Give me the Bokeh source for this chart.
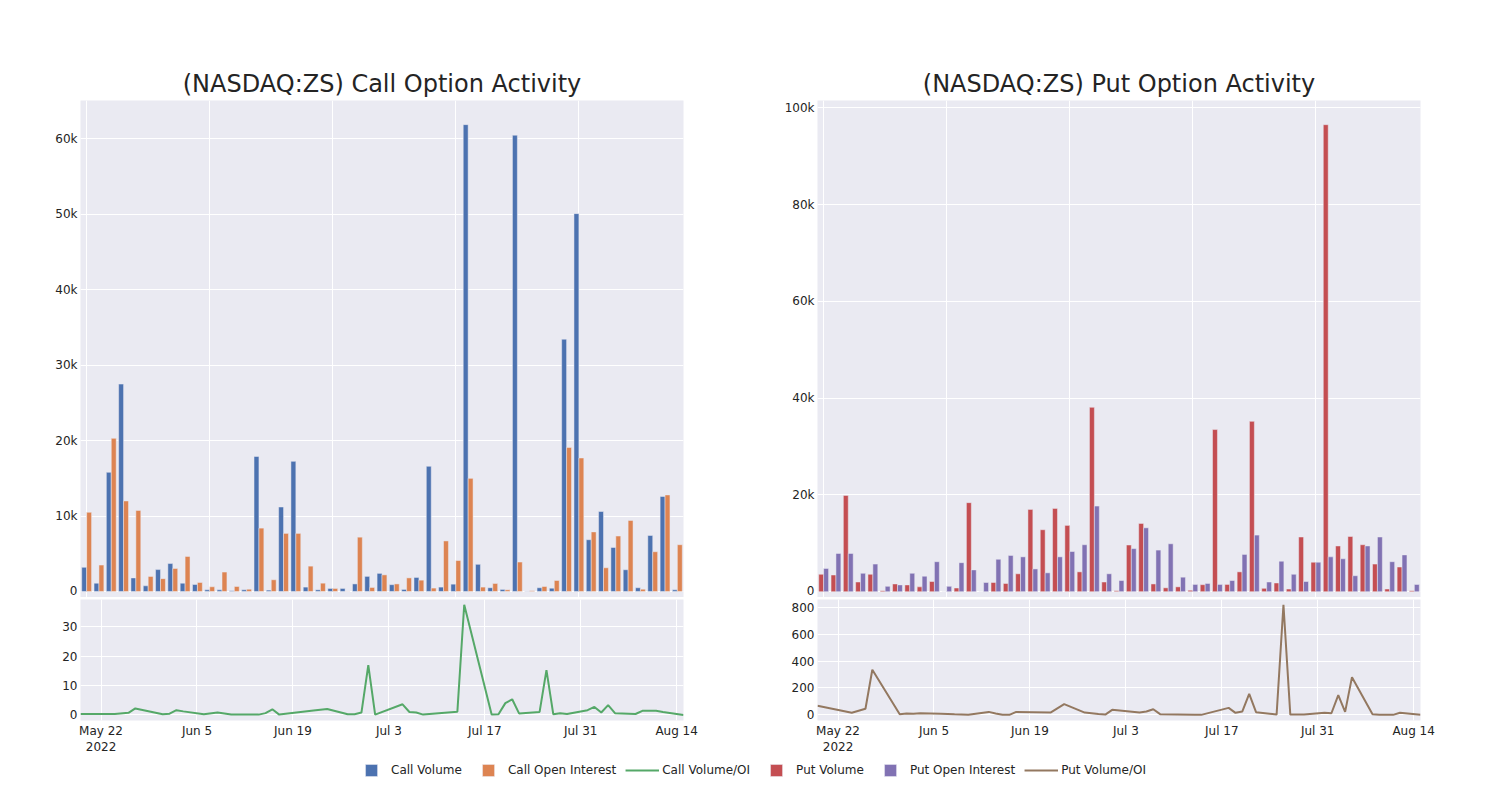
import pandas as pd
from bokeh.plotting import figure
from bokeh.layouts import column, row
from bokeh.models import (ColumnDataSource, Range1d, FixedTicker, SingleIntervalTicker,
                          NumeralTickFormatter, Legend, LegendItem)
from bokeh.transform import dodge
from bokeh.embed import file_html
from bokeh.resources import INLINE

# ---------------- data ----------------
dates = ["2022-05-19", "2022-05-24", "2022-05-26", "2022-05-27", "2022-05-31",
         "2022-06-01", "2022-06-02", "2022-06-03", "2022-06-06", "2022-06-08",
         "2022-06-10", "2022-06-13", "2022-06-14", "2022-06-15", "2022-06-16",
         "2022-06-17", "2022-06-22", "2022-06-24", "2022-06-27", "2022-06-28",
         "2022-06-29", "2022-06-30", "2022-07-01", "2022-07-05", "2022-07-06",
         "2022-07-07", "2022-07-08", "2022-07-13", "2022-07-14", "2022-07-18",
         "2022-07-19", "2022-07-20", "2022-07-21", "2022-07-22", "2022-07-25",
         "2022-07-26", "2022-07-27", "2022-07-28", "2022-07-29", "2022-08-01",
         "2022-08-02", "2022-08-03", "2022-08-04", "2022-08-05", "2022-08-08",
         "2022-08-09", "2022-08-11", "2022-08-12", "2022-08-15"]

call_volume = [3200, 1100, 15800, 27500, 1800, 750, 2900, 3700, 1100, 930,
               220, 220, 90, 220, 17900, 180, 11200, 17250, 580, 220,
               400, 400, 1000, 2000, 2400, 900, 270, 1860, 16600, 580,
               970, 61900, 3600, 490, 270, 60500, 20, 490, 440, 33450,
               50100, 6860, 10600, 5840, 2880, 490, 7430, 12600, 220]
call_open_interest = [10500, 3500, 20300, 12000, 10750, 2000, 1700, 3050, 4650, 1200,
                      620, 2570, 660, 310, 8400, 1550, 7700, 7700, 3360, 1100,
                      400, 25, 7200, 530, 2200, 1000, 1800, 1500, 450, 6700,
                      4100, 15000, 580, 1060, 220, 3900, 100, 660, 1460, 19100,
                      17700, 7900, 3140, 7350, 9420, 310, 5270, 12800, 6200]
call_vol_oi = [0.3, 0.3, 0.7, 2.2, 0.2, 0.4, 1.6, 1.2, 0.2, 0.8,
               0.1, 0.1, 0.1, 0.6, 1.9, 0.1, 1.5, 2.0, 0.2, 0.2,
               0.8, 16.9, 0.1, 3.6, 1.0, 0.8, 0.1, 1.1, 37.4, 0.1,
               0.2, 4.0, 5.3, 0.5, 1.0, 15.2, 0.2, 0.6, 0.3, 1.6,
               2.7, 0.8, 3.3, 0.6, 0.3, 1.4, 1.4, 1.0, 0.0]

put_volume = [3600, 3450, 19900, 2000, 3600, 200, 1600, 1400, 1000, 2100,
              0, 760, 18400, 0, 1900, 1700, 3700, 17000, 12800, 17200,
              13700, 4100, 38100, 2000, 200, 9650, 14100, 1600, 800, 1000,
              300, 1450, 33500, 1500, 4100, 35200, 700, 1800, 550, 11300,
              6100, 96500, 9450, 11400, 9700, 5700, 550, 5100, 200]
put_open_interest = [4800, 7900, 7900, 3800, 5700, 1100, 1400, 3800, 3200, 6200,
                     1100, 6000, 4500, 1900, 6700, 7500, 7200, 4700, 3900, 7200,
                     8300, 9700, 17700, 3700, 2300, 8900, 13200, 8600, 9900, 3000,
                     1500, 1700, 1500, 2300, 7700, 11700, 2000, 6300, 3600, 2100,
                     6100, 7200, 6800, 3300, 9450, 11300, 6200, 7600, 1500]
put_vol_oi = [67, 15, 45, 335, 5, 10, 8, 12, 8, 4,
              1, 22, 10, 0, 0, 22, 17, 80, 17, 12,
              6, 2, 37, 18, 25, 42, 5, 1, 0, 52,
              15, 25, 156, 20, 2, 818, 2, 2, 2, 15,
              12, 146, 22, 280, 5, 0, 0, 15, 0]

date_ticks = ["2022-05-22", "2022-06-05", "2022-06-19", "2022-07-03",
              "2022-07-17", "2022-07-31", "2022-08-14"]
date_tick_labels = ["May 22\n2022", "Jun 5", "Jun 19", "Jul 3",
                    "Jul 17", "Jul 31", "Aug 14"]
category_grid_every = 10

legend_labels = ["Call Volume", "Call Open Interest", "Call Volume/OI",
                 "Put Volume", "Put Open Interest", "Put Volume/OI"]

# ---------------- style ----------------
FONT = "DejaVu Sans"
TEXT = "#242424"
BG = "#EAEAF2"
C_BLUE = "#4C72B0"
C_ORANGE = "#DD8452"
C_GREEN = "#55A868"
C_RED = "#C44E52"
C_PURPLE = "#8172B3"
C_BROWN = "#937860"

COL_W = 750
FRAME_W = 603
TOP_H = 597
BOT_H = 163
BOT_AXIS = 40


def style_axes(p):
    p.background_fill_color = BG
    p.border_fill_color = "white"
    p.outline_line_color = None
    for ax in p.axis:
        ax.axis_line_color = None
        ax.major_tick_line_color = None
        ax.minor_tick_line_color = None
        ax.major_tick_out = 0
        ax.major_tick_in = 0
        ax.minor_tick_out = 0
        ax.minor_tick_in = 0
        ax.major_label_text_font = FONT
        ax.major_label_text_font_size = "12px"
        ax.major_label_text_color = TEXT
        ax.major_label_standoff = 3
    p.grid.grid_line_color = "white"
    p.grid.grid_line_width = 1


def bar_figure(title, vol, oi, c_vol, c_oi, y_lo, y_hi, interval, left, right):
    n = len(dates)
    src = ColumnDataSource(dict(i=list(range(n)), date=dates, vol=vol, oi=oi))
    p = figure(width=COL_W, height=TOP_H, x_range=Range1d(-0.5, n - 0.5),
               y_range=Range1d(y_lo, y_hi), output_backend="svg",
               toolbar_location=None, min_border_left=left, min_border_right=right,
               min_border_top=100, min_border_bottom=0)
    p.vbar(x=dodge("i", -0.2), top="vol", width=0.4, source=src,
           fill_color=c_vol, line_color=BG, line_width=0.5)
    p.vbar(x=dodge("i", 0.2), top="oi", width=0.4, source=src,
           fill_color=c_oi, line_color=BG, line_width=0.5)
    p.title.text = title
    p.title.text_font = FONT
    p.title.text_font_size = "24px"
    p.title.text_font_style = "normal"
    p.title.text_color = TEXT
    p.title.align = "center"
    p.title.standoff = 6
    p.yaxis.ticker = SingleIntervalTicker(interval=interval)
    p.yaxis.formatter = NumeralTickFormatter(format="0a")
    style_axes(p)
    p.xaxis.visible = False
    p.xgrid.ticker = FixedTicker(ticks=list(range(0, n, category_grid_every)))
    return p


def line_figure(ratio, color, y_lo, y_hi, interval, left, right):
    x = pd.to_datetime(dates)
    src = ColumnDataSource(dict(date=x, ratio=ratio))
    q = figure(width=COL_W, height=BOT_H, x_axis_type="datetime",
               x_range=Range1d(x[0].to_pydatetime(), x[-1].to_pydatetime()),
               y_range=Range1d(y_lo, y_hi), output_backend="svg",
               toolbar_location=None, min_border_left=left, min_border_right=right,
               min_border_top=2, min_border_bottom=BOT_AXIS)
    q.line(x="date", y="ratio", source=src, line_color=color, line_width=2)
    tick_ms = [pd.Timestamp(d).value / 1e6 for d in date_ticks]
    q.xaxis.ticker = FixedTicker(ticks=tick_ms)
    q.xaxis.major_label_overrides = {t: lab for t, lab in zip(tick_ms, date_tick_labels)}
    q.yaxis.ticker = SingleIntervalTicker(interval=interval)
    style_axes(q)
    return q


L1, R1 = 80, COL_W - 80 - FRAME_W
L2, R2 = 67, COL_W - 67 - FRAME_W

p_call = bar_figure("(NASDAQ:ZS) Call Option Activity", call_volume, call_open_interest,
                    C_BLUE, C_ORANGE, -800, 65100, 10000, L1, R1)
q_call = line_figure(call_vol_oi, C_GREEN, -1.9, 39.2, 10, L1, R1)

p_put = bar_figure("(NASDAQ:ZS) Put Option Activity", put_volume, put_open_interest,
                   C_RED, C_PURPLE, -1200, 101500, 20000, L2, R2)
q_put = line_figure(put_vol_oi, C_BROWN, -42, 857, 200, L2, R2)

# ---------------- legend (proxy glyphs placed outside the visible range) ----------------
lg = figure(width=2 * COL_W, height=20, toolbar_location=None, output_backend="svg",
            min_border=0, x_range=Range1d(0, 1), y_range=Range1d(0, 1),
            x_axis_location=None, y_axis_location=None)
lg.outline_line_color = None
lg.grid.visible = False
off = dict(x=[-10, -9], y=[-10, -9])
r1 = lg.scatter(marker="square", fill_color=C_BLUE, line_color=BG, line_width=0.5, **off)
r2 = lg.scatter(marker="square", fill_color=C_ORANGE, line_color=BG, line_width=0.5, **off)
r3 = lg.line(line_color=C_GREEN, line_width=2, **off)
r4 = lg.scatter(marker="square", fill_color=C_RED, line_color=BG, line_width=0.5, **off)
r5 = lg.scatter(marker="square", fill_color=C_PURPLE, line_color=BG, line_width=0.5, **off)
r6 = lg.line(line_color=C_BROWN, line_width=2, **off)
legend = Legend(items=[LegendItem(label=lab, renderers=[r])
                       for lab, r in zip(legend_labels, [r1, r2, r3, r4, r5, r6])],
                location="center", orientation="horizontal", glyph_width=34,
                glyph_height=30, label_standoff=3, spacing=9, padding=0, margin=0,
                border_line_color=None, background_fill_alpha=0,
                label_text_font=FONT, label_text_font_size="12px",
                label_text_color=TEXT)
lg.add_layout(legend, "center")

layout = column(row(column(p_call, q_call), column(p_put, q_put)), lg)

with open("out.html", "w") as f:
    f.write(file_html(layout, INLINE))
